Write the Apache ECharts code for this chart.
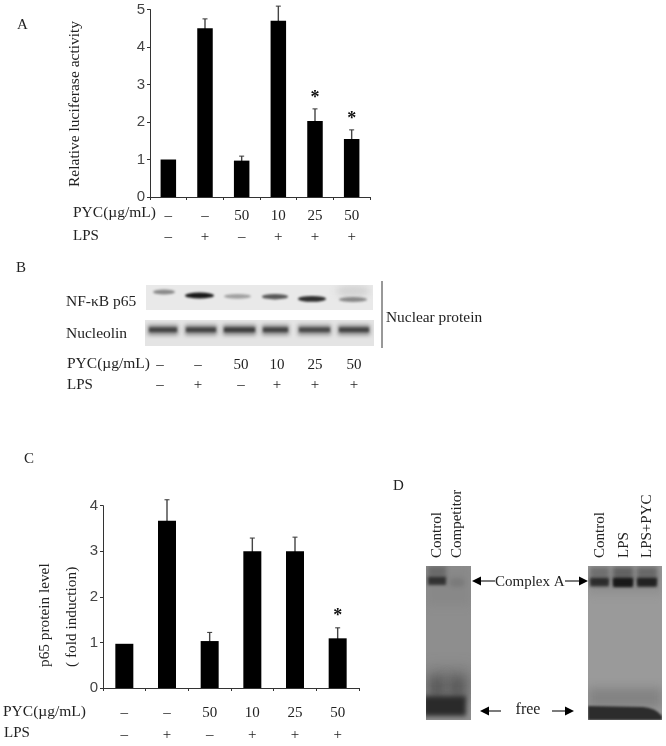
<!DOCTYPE html>
<html>
<head>
<meta charset="utf-8">
<style>
    html, body { margin: 0; padding: 0; background: #fff; }
    #main { width: 666px; height: 746px; }
</style>
</head>
<body>
<div id="main"></div>
<script src="https://cdn.jsdelivr.net/npm/echarts@6/dist/echarts.min.js"></script>
<script>
    // treatment rows, same for A, B and C
    var pycLabels = ['–', '–', '50', '10', '25', '50'];
    var lpsLabels = ['–', '+', '–', '+', '+', '+'];

    // panel A
    var lucValues = [1, 4.5, 0.97, 4.7, 2.03, 1.55];
    var lucErrTop = [null, 4.75, 1.09, 5.09, 2.35, 1.79];
    var lucStars = ['', '', '', '', '*', '*'];

    // panel C
    var p65Values = [0.97, 3.67, 1.03, 3.0, 3.0, 1.09];
    var p65ErrTop = [null, 4.13, 1.22, 3.29, 3.31, 1.32];
    var p65Stars = ['', '', '', '', '', '*'];

    // panel B, band darkness per lane
    var p65Density = [0.45, 1, 0.35, 0.7, 0.9, 0.45];
    var nucleolinDensity = [0.85, 0.85, 0.9, 0.85, 0.8, 0.85];

    // panel D, band darkness per lane
    var emsaLeftDensity = [0.75, 0.06];
    var emsaRightDensity = [0.7, 1, 0.85];

    var SERIF = '"Liberation Serif", serif';
    var SANS = '"Liberation Sans", sans-serif';

    function makeCanvas(w, h, bg) {
        var c = document.createElement('canvas');
        c.width = w;
        c.height = h;
        var ctx = c.getContext('2d');
        ctx.fillStyle = bg;
        ctx.fillRect(0, 0, w, h);
        return c;
    }

    function blob(ctx, x, y, w, h, color, blur) {
        ctx.save();
        ctx.filter = 'blur(' + blur + 'px)';
        ctx.fillStyle = color;
        ctx.beginPath();
        ctx.ellipse(x + w / 2, y + h / 2, w / 2, h / 2, 0, 0, Math.PI * 2);
        ctx.fill();
        ctx.restore();
    }

    function box(ctx, x, y, w, h, color, blur) {
        ctx.save();
        ctx.filter = 'blur(' + blur + 'px)';
        ctx.fillStyle = color;
        ctx.fillRect(x, y, w, h);
        ctx.restore();
    }

    function dark(v) {
        return 'rgba(25,25,25,' + v + ')';
    }

    function p65Blot() {
        var c = makeCanvas(227, 25, '#e9e9e9');
        var ctx = c.getContext('2d');
        var lanes = [[7, 22, 7], [39, 29, 10], [78, 27, 11.5], [116, 26, 11.5], [152, 28, 13.5], [193, 28, 14.5]];
        blob(ctx, 190, 0, 34, 12, 'rgba(190,190,190,0.5)', 3);
        lanes.forEach(function (l, i) {
            blob(ctx, l[0], l[2] - 2.5, l[1], 4 + p65Density[i] * 2, dark(p65Density[i]), 1.1);
        });
        return c;
    }

    function nucleolinBlot() {
        var c = makeCanvas(229, 26, '#e4e4e4');
        var ctx = c.getContext('2d');
        var lanes = [[2, 32], [39, 34], [77, 35], [116, 29], [152, 35], [192, 34]];
        lanes.forEach(function (l, i) {
            var d = nucleolinDensity[i];
            box(ctx, l[0] + 1, 5, l[1] - 2, 10, dark(d * 0.55), 2);
            box(ctx, l[0] + 2, 7.5, l[1] - 4, 4.5, dark(d * 0.7), 1.2);
        });
        return c;
    }

    function emsaLeft() {
        var c = makeCanvas(45, 154, '#8e8e8e');
        var ctx = c.getContext('2d');
        box(ctx, 0, 0, 45, 40, '#888', 4);
        box(ctx, 2, 0, 18, 14, '#6a6a6a', 2);
        box(ctx, 2, 11, 18, 8, dark(emsaLeftDensity[0]), 1.5);
        blob(ctx, 23, 12, 16, 9, dark(emsaLeftDensity[1] + 0.06), 2);
        box(ctx, 0, 100, 45, 30, 'rgba(70,70,70,0.2)', 7);
        box(ctx, 2, 110, 17, 24, 'rgba(50,50,50,0.5)', 6);
        box(ctx, 23, 110, 17, 24, 'rgba(50,50,50,0.5)', 6);
        box(ctx, -3, 130, 43, 20, '#2a2a2a', 2.5);
        return c;
    }

    function emsaRight() {
        var c = makeCanvas(74, 154, '#9a9a9a');
        var ctx = c.getContext('2d');
        box(ctx, 0, 0, 74, 28, '#8f8f8f', 4);
        var lanes = [[2, 19], [25, 20], [49, 20]];
        lanes.forEach(function (l, i) {
            var d = emsaRightDensity[i];
            box(ctx, l[0], 1, l[1], 14, 'rgba(60,60,60,' + (d * 0.55) + ')', 2);
            box(ctx, l[0], 12, l[1], 7 + d * 2, dark(d), 1.8);
            box(ctx, l[0] + 1, 13, l[1] - 2, 5 + d * 2, dark(d * 0.6), 1.5);
        });
        box(ctx, 0, 122, 74, 20, 'rgba(90,90,90,0.35)', 5);
        ctx.save();
        ctx.filter = 'blur(0.8px)';
        ctx.fillStyle = '#2c2c2c';
        ctx.beginPath();
        ctx.moveTo(0, 140);
        ctx.lineTo(55, 141);
        ctx.quadraticCurveTo(68, 142, 74, 150);
        ctx.lineTo(74, 154);
        ctx.lineTo(0, 154);
        ctx.closePath();
        ctx.fill();
        ctx.restore();
        return c;
    }

    function txt(text, x, y, opt) {
        opt = opt || {};
        return {
            type: 'text',
            x: x,
            y: y,
            rotation: opt.rot || 0,
            silent: true,
            style: {
                text: text,
                font: (opt.size || 15) + 'px ' + (opt.family || SERIF),
                fill: opt.color || '#222',
                align: opt.align || 'left',
                verticalAlign: 'middle'
            }
        };
    }

    function upText(text, x, bottom, size) {
        return txt(text, x, bottom, {rot: Math.PI / 2, size: size || 15});
    }

    function img(canvas, x, y, w, h) {
        return {type: 'image', x: x, y: y, silent: true, style: {image: canvas, x: 0, y: 0, width: w, height: h}};
    }

    function arrow(x1, x2, y) {
        // head sits at x2
        var dir = x2 > x1 ? 1 : -1;
        return [
            {type: 'line', silent: true, shape: {x1: x1, y1: y, x2: x2 - dir * 6, y2: y}, style: {stroke: '#222', lineWidth: 1.2}},
            {type: 'polygon', silent: true, shape: {points: [[x2, y], [x2 - dir * 9, y - 4.5], [x2 - dir * 9, y + 4.5]]}, style: {fill: '#000'}}
        ];
    }

    var graphics = [
        txt('A', 17, 25),
        txt('B', 16, 268),
        txt('C', 24, 459),
        txt('D', 393, 486),

        // A labels
        upText('Relative luciferase activity', 75, 187, 15.5),
        txt('PYC(µg/mL)', 73, 213, {size: 15.5}),
        txt('LPS', 73, 236),

        // C labels
        upText('p65 protein level', 45, 667, 15.3),
        upText('( fold induction)', 72, 667, 15.3),
        txt('PYC(µg/mL)', 3, 712, {size: 15.5}),
        txt('LPS', 4, 733),

        // B
        img(p65Blot(), 146, 285, 227, 25),
        img(nucleolinBlot(), 145, 320, 229, 26),
        txt('NF-κB p65', 66, 302, {size: 15.5}),
        txt('Nucleolin', 66, 334, {size: 15.5}),
        txt('Nuclear protein', 386, 318, {size: 15.4}),
        {type: 'line', silent: true, shape: {x1: 382, y1: 281, x2: 382, y2: 348}, style: {stroke: '#333', lineWidth: 1}},
        txt('PYC(µg/mL)', 67, 364, {size: 15.5}),
        txt('LPS', 67, 385),

        // D
        img(emsaLeft(), 426, 566, 45, 154),
        img(emsaRight(), 588, 566, 74, 154),
        upText('Control', 437, 558, 15),
        upText('Competitor', 457, 558, 15),
        upText('Control', 600, 558, 15),
        upText('LPS', 624, 558, 15),
        upText('LPS+PYC', 647, 558, 15),
        txt('Complex A', 495, 582, {size: 15}),
        txt('free', 528, 710, {size: 16, align: 'center'})
    ].concat(
        arrow(495, 472, 581),
        arrow(565, 588, 581),
        arrow(501, 480, 711),
        arrow(552, 574, 711)
    );

    // treatment row of panel B has no axis to hang on
    var blotX = [160, 198, 241, 277, 315, 354];
    blotX.forEach(function (x, i) {
        graphics.push(txt(pycLabels[i], x, 365, {size: 15, align: 'center'}));
        graphics.push(txt(lpsLabels[i], x, 385, {size: 15, align: 'center'}));
    });

    function errData(tops, stars) {
        return tops.map(function (t, i) {
            return {value: [i, t == null ? '-' : t], star: stars[i]};
        });
    }

    function errItem(stars) {
        return function (params, api) {
            var top = api.value(1);
            if (isNaN(top)) {
                return null;
            }
            var i = api.value(0);
            var p = api.coord([i, top]);
            var b = api.coord([i, 0]);
            var kids = [
                {type: 'line', shape: {x1: p[0], y1: p[1], x2: p[0], y2: b[1]}, style: {stroke: '#444', lineWidth: 1.4}},
                {type: 'line', shape: {x1: p[0] - 2.5, y1: p[1], x2: p[0] + 2.5, y2: p[1]}, style: {stroke: '#333', lineWidth: 1}}
            ];
            if (stars[i]) {
                kids.push({
                    type: 'text',
                    x: p[0],
                    y: p[1] - 11,
                    style: {text: stars[i], font: 'bold 18px ' + SERIF, fill: '#111', align: 'center', verticalAlign: 'middle'}
                });
            }
            return {type: 'group', children: kids};
        };
    }

    function xAxisFor(gridIndex, rowGap, margin) {
        return {
            type: 'category',
            gridIndex: gridIndex,
            data: pycLabels.map(function (p, i) { return p + '\n' + lpsLabels[i]; }),
            axisLine: {lineStyle: {color: '#333', width: 1}},
            axisTick: {show: true, length: 3, lineStyle: {color: '#333'}},
            axisLabel: {
                interval: 0,
                margin: margin,
                color: '#222',
                fontFamily: SERIF,
                fontSize: 15,
                lineHeight: rowGap
            }
        };
    }

    function yAxisFor(gridIndex, max) {
        return {
            type: 'value',
            gridIndex: gridIndex,
            min: 0,
            max: max,
            interval: 1,
            splitLine: {show: false},
            axisLine: {show: true, lineStyle: {color: '#333', width: 1}},
            axisTick: {show: true, length: 3, lineStyle: {color: '#333'}},
            axisLabel: {color: '#444', fontFamily: SANS, fontSize: 15, margin: 5}
        };
    }

    var myChart = echarts.init(document.getElementById('main'), null, {renderer: 'canvas'});

    var option = {
        animation: false,
        grid: [
            {left: 150, width: 220, top: 9.5, height: 187.5},
            {left: 103, width: 256, top: 505.7, height: 184.6}
        ],
        xAxis: [xAxisFor(0, 21, 9), xAxisFor(1, 22, 14)],
        yAxis: [yAxisFor(0, 5), yAxisFor(1, 4)],
        series: [
            {type: 'custom', xAxisIndex: 0, yAxisIndex: 0, renderItem: errItem(lucStars), data: errData(lucErrTop, lucStars), encode: {x: 0, y: 1}, z: 1, silent: true},
            {type: 'bar', xAxisIndex: 0, yAxisIndex: 0, data: lucValues, barWidth: 15.5, itemStyle: {color: '#000'}, z: 2, silent: true},
            {type: 'custom', xAxisIndex: 1, yAxisIndex: 1, renderItem: errItem(p65Stars), data: errData(p65ErrTop, p65Stars), encode: {x: 0, y: 1}, z: 1, silent: true},
            {type: 'bar', xAxisIndex: 1, yAxisIndex: 1, data: p65Values, barWidth: 18, itemStyle: {color: '#000'}, z: 2, silent: true}
        ],
        graphic: graphics
    };

    option && myChart.setOption(option);
</script>
</body>
</html>
